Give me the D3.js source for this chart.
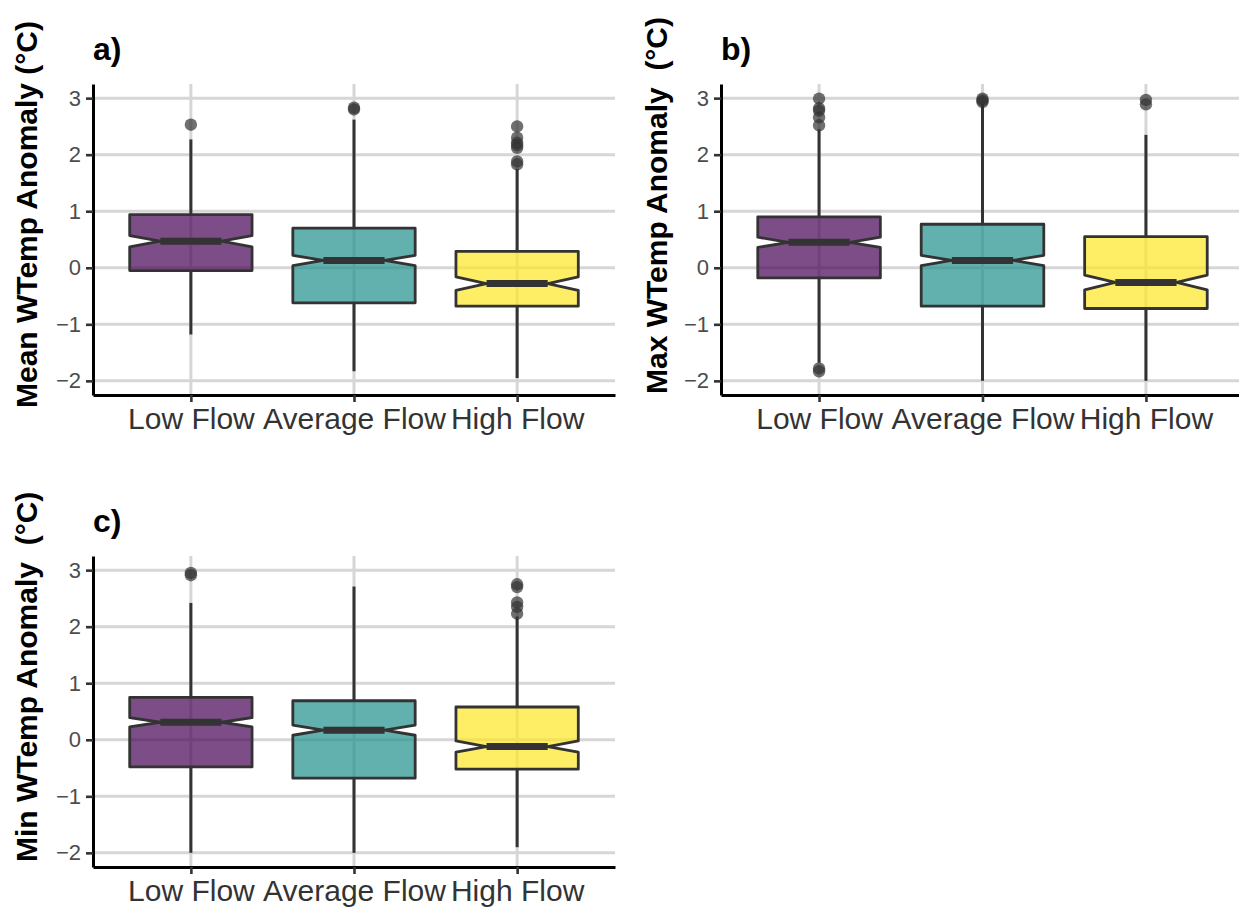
<!DOCTYPE html>
<html>
<head>
<meta charset="utf-8">
<script src="https://cdn.jsdelivr.net/npm/d3@7"></script>
<style>
  html, body { margin: 0; padding: 0; background: #fff; }
  svg { display: block; }
  text { font-family: "Liberation Sans", Arial, sans-serif; }
</style>
</head>
<body>
<svg id="chart" width="1239" height="910"></svg>
<script>
// Flow categories and axis ticks
const categories = ["Low Flow", "Average Flow", "High Flow"];
const yTicks = [-2, -1, 0, 1, 2, 3];
const fillColors = ["#440154", "#21908C", "#FDE725"];

// a) Mean water temperature anomaly (°C)
const meanLowerWhisker = [-1.18, -1.83, -1.95];
const meanQ1 = [-0.05, -0.62, -0.68];
const meanMedian = [0.47, 0.13, -0.28];
const meanQ3 = [0.94, 0.70, 0.29];
const meanUpperWhisker = [2.27, 2.62, 1.75];
const meanNotch = [0.10, 0.09, 0.12];
const meanOutliers = [[2.53], [2.80, 2.83], [1.83, 1.88, 2.12, 2.17, 2.21, 2.30, 2.50]];

// b) Max water temperature anomaly (°C)
const maxLowerWhisker = [-1.68, -2.0, -2.0];
const maxQ1 = [-0.18, -0.68, -0.72];
const maxMedian = [0.45, 0.13, -0.26];
const maxQ3 = [0.90, 0.77, 0.55];
const maxUpperWhisker = [2.45, 2.90, 2.35];
const maxNotch = [0.09, 0.09, 0.13];
const maxOutliers = [[-1.83, -1.78, 2.52, 2.66, 2.78, 2.82, 2.99], [2.93, 2.96, 2.99], [2.89, 2.97]];

// c) Min water temperature anomaly (°C)
const minLowerWhisker = [-2.0, -2.0, -1.9];
const minQ1 = [-0.48, -0.68, -0.52];
const minMedian = [0.31, 0.17, -0.12];
const minQ3 = [0.75, 0.69, 0.58];
const minUpperWhisker = [2.42, 2.71, 2.18];
const minNotch = [0.08, 0.09, 0.10];
const minOutliers = [[2.91, 2.95], [], [2.23, 2.35, 2.43, 2.70, 2.75]];

function buildStats(lw, q1, med, q3, uw, notch, outl) {
  return categories.map((c, i) => ({
    cat: c, color: fillColors[i],
    lw: lw[i], q1: q1[i], med: med[i], q3: q3[i], uw: uw[i],
    notch: notch[i], outliers: outl[i]
  }));
}

const panels = [
  { tag: "a)", title: "Mean WTemp Anomaly (°C)",
    stats: buildStats(meanLowerWhisker, meanQ1, meanMedian, meanQ3, meanUpperWhisker, meanNotch, meanOutliers),
    left: 93, top: 84, width: 522, height: 311, titleX: 37, titleY: 408 },
  { tag: "b)", title: "Max WTemp Anomaly  (°C)",
    stats: buildStats(maxLowerWhisker, maxQ1, maxMedian, maxQ3, maxUpperWhisker, maxNotch, maxOutliers),
    left: 721, top: 84, width: 523, height: 311, titleX: 667, titleY: 394 },
  { tag: "c)", title: "Min WTemp Anomaly  (°C)",
    stats: buildStats(minLowerWhisker, minQ1, minMedian, minQ3, minUpperWhisker, minNotch, minOutliers),
    left: 93, top: 556, width: 522, height: 311, titleX: 37, titleY: 862 }
];

const svg = d3.select("#chart");
svg.append("rect").attr("width", 1239).attr("height", 910).attr("fill", "#fff");

panels.forEach(p => {
  const g = svg.append("g").attr("transform", `translate(${p.left},${p.top})`);
  const x = d3.scalePoint().domain(categories).range([0, p.width]).padding(0.6);
  const y = d3.scaleLinear().domain([-2.25, 3.25]).range([p.height, 0]);
  const step = x.step();
  const hw = step * 0.375;

  // grid
  g.append("g").selectAll("line").data(yTicks).join("line")
    .attr("x1", 0).attr("x2", p.width)
    .attr("y1", d => y(d)).attr("y2", d => y(d))
    .attr("stroke", "#d6d6d6").attr("stroke-width", 3);
  g.append("g").selectAll("line").data(categories).join("line")
    .attr("x1", d => x(d)).attr("x2", d => x(d))
    .attr("y1", 0).attr("y2", p.height)
    .attr("stroke", "#d6d6d6").attr("stroke-width", 3);

  const boxes = g.append("g").selectAll("g").data(p.stats).join("g");

  // whiskers
  boxes.append("line")
    .attr("x1", d => x(d.cat)).attr("x2", d => x(d.cat))
    .attr("y1", d => y(d.q3)).attr("y2", d => y(d.uw))
    .attr("stroke", "#333").attr("stroke-width", 3);
  boxes.append("line")
    .attr("x1", d => x(d.cat)).attr("x2", d => x(d.cat))
    .attr("y1", d => y(d.q1)).attr("y2", d => y(d.lw))
    .attr("stroke", "#333").attr("stroke-width", 3);

  // notched boxes
  boxes.append("path")
    .attr("d", d => {
      const cx = x(d.cat);
      const pts = [
        [cx - hw, y(d.q3)], [cx - hw, y(d.med + d.notch)], [cx - hw / 2, y(d.med)],
        [cx - hw, y(d.med - d.notch)], [cx - hw, y(d.q1)], [cx + hw, y(d.q1)],
        [cx + hw, y(d.med - d.notch)], [cx + hw / 2, y(d.med)],
        [cx + hw, y(d.med + d.notch)], [cx + hw, y(d.q3)]
      ];
      return d3.line()(pts) + "Z";
    })
    .attr("fill", d => d.color).attr("fill-opacity", 0.7)
    .attr("stroke", "#333").attr("stroke-width", 2.8).attr("stroke-linejoin", "round");

  // medians
  boxes.append("line")
    .attr("x1", d => x(d.cat) - hw / 2).attr("x2", d => x(d.cat) + hw / 2)
    .attr("y1", d => y(d.med)).attr("y2", d => y(d.med))
    .attr("stroke", "#333").attr("stroke-width", 7);

  // outliers
  boxes.selectAll("circle").data(d => d.outliers.map(v => ({ cat: d.cat, v }))).join("circle")
    .attr("cx", d => x(d.cat)).attr("cy", d => y(d.v)).attr("r", 6.2)
    .attr("fill", "#333").attr("fill-opacity", 0.7);

  // axes
  const yAxis = g.append("g")
    .call(d3.axisLeft(y).tickValues(yTicks).tickSize(7).tickSizeOuter(0).tickPadding(5)
      .tickFormat(d => d < 0 ? "\u2212" + Math.abs(d) : String(d)));
  const xAxis = g.append("g").attr("transform", `translate(0,${p.height})`)
    .call(d3.axisBottom(x).tickSize(7).tickSizeOuter(0).tickPadding(6));

  [yAxis, xAxis].forEach(ax => {
    ax.select(".domain").attr("stroke", "#000").attr("stroke-width", 3);
    ax.selectAll(".tick line").attr("stroke", "#333").attr("stroke-width", 2.6);
  });
  yAxis.selectAll(".tick text").attr("font-size", 22).attr("fill", "#4d4d4d")
    .style("font-family", "'Liberation Sans', Arial, sans-serif");
  xAxis.selectAll(".tick text").attr("font-size", 30).attr("fill", "#333")
    .style("font-family", "'Liberation Sans', Arial, sans-serif");

  // panel tag
  svg.append("text")
    .attr("x", p.left).attr("y", p.top - 24)
    .attr("font-size", 32).attr("font-weight", "bold").attr("fill", "#000")
    .text(p.tag);

  // y-axis title
  svg.append("text")
    .attr("transform", `translate(${p.titleX},${p.titleY}) rotate(-90)`)
    .attr("font-size", 30).attr("font-weight", "bold").attr("fill", "#000")
    .style("white-space", "pre")
    .text(p.title);
});
</script>
</body>
</html>
